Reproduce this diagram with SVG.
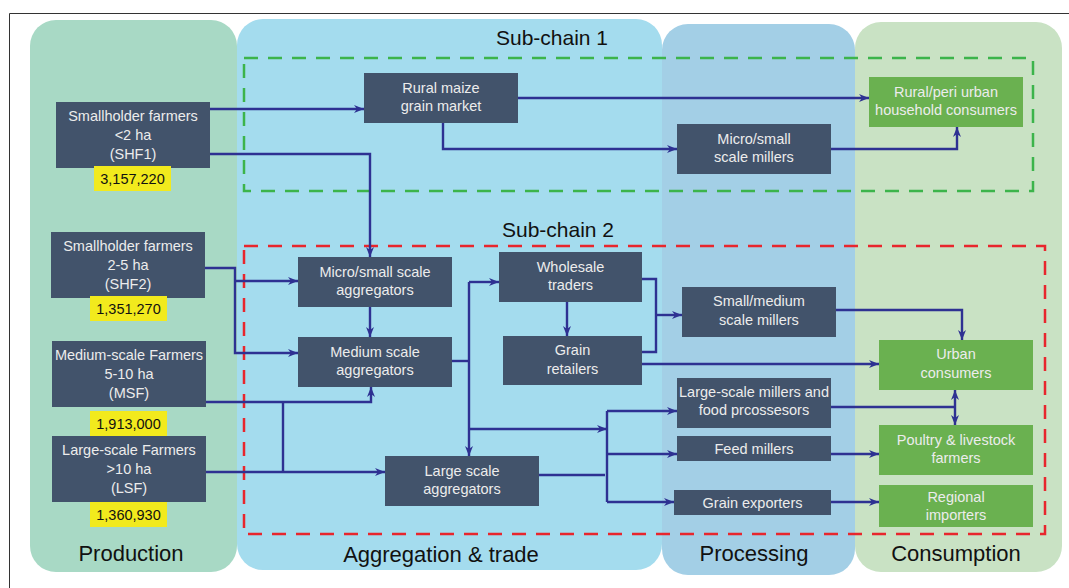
<svg xmlns="http://www.w3.org/2000/svg" width="1069" height="588" viewBox="0 0 1069 588">
<defs>
<style>
.nd{fill:#42536b}
.gn{fill:#6ab150}
.yl{fill:#f2ea1d}
.t{font-family:"Liberation Sans",Arial,sans-serif;font-size:14.5px;fill:#ececec;text-anchor:middle}
.n{font-family:"Liberation Sans",Arial,sans-serif;font-size:14.5px;fill:#111;text-anchor:middle}
.col{font-family:"Liberation Sans",Arial,sans-serif;font-size:22px;fill:#111;text-anchor:middle}
.sc{font-family:"Liberation Sans",Arial,sans-serif;font-size:21px;fill:#111;text-anchor:middle}
.c{fill:none;stroke:#2e3192;stroke-width:2.4;stroke-linejoin:miter}
.a{marker-end:url(#ah)}
</style>
<marker id="ah" markerUnits="userSpaceOnUse" markerWidth="12" markerHeight="10" refX="10" refY="4" orient="auto-start-reverse">
<path d="M0,0 L10,4 L0,8 L3,4 z" fill="#2e3192"/>
</marker>
</defs>
<rect x="0" y="0" width="1069" height="588" fill="#fff"/>
<path d="M9.5,588 V13.5 H1069" fill="none" stroke="#333" stroke-width="1"/>

<g id="columns">
<rect x="30" y="20" width="207" height="552" rx="26" fill="#a8d9c5"/>
<rect x="237" y="19" width="425" height="551" rx="26" fill="#a4dcee"/>
<rect x="662" y="24" width="193" height="551" rx="26" fill="#a3cfe6"/>
<rect x="855" y="22" width="207" height="550" rx="26" fill="#c9e2c4"/>
<text class="col" x="131" y="561">Production</text>
<text class="col" x="441" y="562">Aggregation &amp; trade</text>
<text class="col" x="754" y="561">Processing</text>
<text class="col" x="956" y="561">Consumption</text>
</g>

<g id="subchains">
<rect x="244" y="58" width="789" height="133" fill="none" stroke="#3cb44b" stroke-width="2.5" stroke-dasharray="14 10"/>
<text class="sc" x="552" y="45">Sub-chain 1</text>
<rect x="244" y="246" width="801" height="288" fill="none" stroke="#e8262d" stroke-width="2.5" stroke-dasharray="14 10"/>
<text class="sc" x="558" y="237">Sub-chain 2</text>
</g>

<g id="connectors">
<path class="c a" d="M210,109 H364"/>
<path class="c a" d="M205,154 H370 V257"/>
<path class="c a" d="M518,98 H869"/>
<path class="c a" d="M443,123 V149 H677"/>
<path class="c a" d="M831,149 H957 V127"/>
<path class="c a" d="M205,268 H235 V353 H298"/>
<path class="c a" d="M235,281 H298"/>
<path class="c a" d="M370,307 V337"/>
<path class="c a" d="M206,402 H371 V387"/>
<path class="c a" d="M206,472 H385"/>
<path class="c" d="M283,402 V472"/>
<path class="c" d="M452,361 H469"/>
<path class="c a" d="M469,282 V456"/>
<path class="c a" d="M469,282 H499"/>
<path class="c a" d="M469,429 H607"/>
<path class="c" d="M607,411 V502"/>
<path class="c" d="M539,475 H605"/>
<path class="c a" d="M607,411 H677"/>
<path class="c a" d="M607,454 H677"/>
<path class="c a" d="M607,502 H674"/>
<path class="c" d="M642,279 H656 V352 H642"/>
<path class="c a" d="M656,315 H682"/>
<path class="c a" d="M567,302 V336"/>
<path class="c a" d="M642,364 H879"/>
<path class="c a" d="M836,310 H962 V340"/>
<path class="c" d="M831,407 H955"/>
<path class="c" d="M955,390 V425" style="marker-start:url(#ah);marker-end:url(#ah)"/>
<path class="c a" d="M831,454 H879"/>
<path class="c a" d="M831,502 H879"/>
</g>

<g id="shf1">
<rect class="nd" x="56" y="102" width="154" height="66"/>
<text class="t" x="133" y="121">Smallholder farmers</text>
<text class="t" x="133" y="140">&lt;2 ha</text>
<text class="t" x="133" y="159">(SHF1)</text>
<rect class="yl" x="94" y="166" width="77" height="25"/>
<text class="n" x="132.5" y="184">3,157,220</text>
</g>
<g id="shf2">
<rect class="nd" x="51" y="232" width="154" height="66"/>
<text class="t" x="128" y="251">Smallholder farmers</text>
<text class="t" x="128" y="270">2-5 ha</text>
<text class="t" x="128" y="289">(SHF2)</text>
<rect class="yl" x="90" y="296" width="77" height="25"/>
<text class="n" x="128.5" y="314">1,351,270</text>
</g>
<g id="msf">
<rect class="nd" x="52" y="341" width="154" height="66"/>
<text class="t" x="129" y="360">Medium-scale Farmers</text>
<text class="t" x="129" y="379">5-10 ha</text>
<text class="t" x="129" y="398">(MSF)</text>
<rect class="yl" x="90" y="411" width="77" height="25"/>
<text class="n" x="128.5" y="429">1,913,000</text>
</g>
<g id="lsf">
<rect class="nd" x="52" y="436" width="154" height="66"/>
<text class="t" x="129" y="455">Large-scale Farmers</text>
<text class="t" x="129" y="474">&gt;10 ha</text>
<text class="t" x="129" y="493">(LSF)</text>
<rect class="yl" x="90" y="502" width="77" height="25"/>
<text class="n" x="128.5" y="520">1,360,930</text>
</g>

<g id="rural-market">
<rect class="nd" x="364" y="73" width="154" height="50"/>
<text class="t" x="441" y="93">Rural maize</text>
<text class="t" x="441" y="111">grain market</text>
</g>
<g id="micro-millers">
<rect class="nd" x="677" y="124" width="154" height="50"/>
<text class="t" x="754" y="144">Micro/small</text>
<text class="t" x="754" y="162">scale millers</text>
</g>
<g id="rural-consumers">
<rect class="gn" x="869" y="77" width="154" height="50"/>
<text class="t" x="946" y="97">Rural/peri urban</text>
<text class="t" x="946" y="115">household consumers</text>
</g>
<g id="micro-aggregators">
<rect class="nd" x="298" y="257" width="154" height="50"/>
<text class="t" x="375" y="277">Micro/small scale</text>
<text class="t" x="375" y="295">aggregators</text>
</g>
<g id="medium-aggregators">
<rect class="nd" x="298" y="337" width="154" height="50"/>
<text class="t" x="375" y="357">Medium scale</text>
<text class="t" x="375" y="375">aggregators</text>
</g>
<g id="wholesale">
<rect class="nd" x="499" y="252" width="143" height="50"/>
<text class="t" x="570.5" y="272">Wholesale</text>
<text class="t" x="570.5" y="290">traders</text>
</g>
<g id="retailers">
<rect class="nd" x="503" y="336" width="139" height="49"/>
<text class="t" x="572.5" y="355">Grain</text>
<text class="t" x="572.5" y="374">retailers</text>
</g>
<g id="sm-millers">
<rect class="nd" x="682" y="287" width="154" height="50"/>
<text class="t" x="759" y="306">Small/medium</text>
<text class="t" x="759" y="325">scale millers</text>
</g>
<g id="urban">
<rect class="gn" x="879" y="340" width="154" height="50"/>
<text class="t" x="956" y="359">Urban</text>
<text class="t" x="956" y="378">consumers</text>
</g>
<g id="large-millers">
<rect class="nd" x="677" y="378" width="154" height="50"/>
<text class="t" x="754" y="397">Large-scale millers and</text>
<text class="t" x="754" y="415">food prcossesors</text>
</g>
<g id="feed-millers">
<rect class="nd" x="677" y="436" width="154" height="25"/>
<text class="t" x="754" y="454">Feed millers</text>
</g>
<g id="exporters">
<rect class="nd" x="674" y="490" width="157" height="25"/>
<text class="t" x="752.5" y="508">Grain exporters</text>
</g>
<g id="large-aggregators">
<rect class="nd" x="385" y="456" width="154" height="50"/>
<text class="t" x="462" y="476">Large scale</text>
<text class="t" x="462" y="494">aggregators</text>
</g>
<g id="poultry">
<rect class="gn" x="879" y="425" width="154" height="50"/>
<text class="t" x="956" y="445">Poultry &amp; livestock</text>
<text class="t" x="956" y="463">farmers</text>
</g>
<g id="importers">
<rect class="gn" x="879" y="485" width="154" height="42"/>
<text class="t" x="956" y="502">Regional</text>
<text class="t" x="956" y="520">importers</text>
</g>
</svg>
